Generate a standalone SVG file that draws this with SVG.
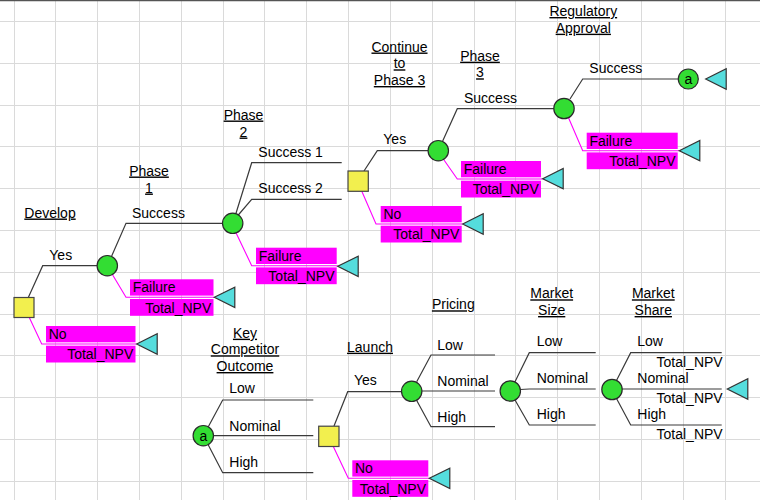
<svg xmlns="http://www.w3.org/2000/svg" width="760" height="500" viewBox="0 0 760 500">
<defs>
<style>
.grid{fill:none;stroke:#dadada;stroke-width:1}
.br{fill:none;stroke:#3a3a3a;stroke-width:1.2}
.pk{fill:none;stroke:#ff00ff;stroke-width:1.1}
.ch{fill:#33dd33;stroke:#2a2a2a;stroke-width:1.2}
.dec{fill:#f2ef4e;stroke:#444;stroke-width:1.2}
.term{fill:#55dddd;stroke:#333;stroke-width:1.2}
.box{fill:#ff00ff}
text{font-family:"Liberation Sans",Arial,sans-serif;font-size:14px;fill:#000}
.hdr{text-anchor:middle;text-decoration:underline}
.r{text-anchor:end}
.c{text-anchor:middle}
</style>
</defs>
<rect x="0" y="0" width="760" height="500" fill="#fff"/>
<g id="grid">
<path class="grid" d="M14.5 0V500M55.5 0V500M97.5 0V500M139.5 0V500M181.5 0V500M223.5 0V500M264.5 0V500M306.5 0V500M348.5 0V500M390.5 0V500M432.5 0V500M474.5 0V500M515.5 0V500M557.5 0V500M599.5 0V500M641.5 0V500M683.5 0V500M725.5 0V500"/>
<path class="grid" d="M0 21.5H760M0 63.5H760M0 105.5H760M0 146.5H760M0 188.5H760M0 230.5H760M0 272.5H760M0 314.5H760M0 355.5H760M0 397.5H760M0 439.5H760M0 481.5H760"/>
<path d="M0 0.5H760" stroke="#555" stroke-width="1.5"/>
</g>
<g id="headers">
<text class="hdr" x="50" y="217.5">Develop</text>
<text class="hdr" x="149" y="175.5">Phase</text>
<text class="hdr" x="149" y="192.5">1</text>
<text class="hdr" x="243.5" y="119.5">Phase</text>
<text class="hdr" x="243.5" y="136.5">2</text>
<text class="hdr" x="399.5" y="51.5">Continue</text>
<text class="hdr" x="399.5" y="68.3">to</text>
<text class="hdr" x="399.5" y="85">Phase 3</text>
<text class="hdr" x="480" y="60.7">Phase</text>
<text class="hdr" x="480" y="77.3">3</text>
<text class="hdr" x="583.3" y="16">Regulatory</text>
<text class="hdr" x="583.3" y="32.7">Approval</text>
<text class="hdr" x="245" y="337.7">Key</text>
<text class="hdr" x="245" y="354.3">Competitor</text>
<text class="hdr" x="245" y="371">Outcome</text>
<text class="hdr" x="370" y="351.7">Launch</text>
<text class="hdr" x="453.3" y="309.3">Pricing</text>
<text class="hdr" x="551.7" y="298.3">Market</text>
<text class="hdr" x="551.7" y="315">Size</text>
<text class="hdr" x="653.3" y="298.3">Market</text>
<text class="hdr" x="653.3" y="315">Share</text>
</g>
<g id="connectors">
<path class="br" d="M28.3 297.5L42.7 265.7H97.3"/>
<path class="pk" d="M29.3 317.5L41.7 344H136.7"/>
<path class="br" d="M111.7 256L126 223.3H222.7"/>
<path class="pk" d="M112.7 275L126 297.3H214.3"/>
<path class="br" d="M236 213.3L251.7 162.7H341.7"/>
<path class="br" d="M238.3 215L251.7 199.3H341.7"/>
<path class="pk" d="M236 232.7L251.7 265.7H337.7"/>
<path class="br" d="M364 171L377.3 150.7H428.3"/>
<path class="pk" d="M361.7 191L376 224H462.7"/>
<path class="br" d="M442.7 141L457.3 108.7H554"/>
<path class="pk" d="M444 160L457.3 179H542.7"/>
<path class="br" d="M570 99L582.7 79H678.3"/>
<path class="pk" d="M568.3 117.3L582.7 150.7H679.3"/>
<path class="br" d="M208.3 426.7L222.7 400H313.3"/>
<path class="br" d="M213.3 435.7H313.3"/>
<path class="br" d="M208.3 445L222.7 472.7H313.3"/>
<path class="br" d="M334 426L347.7 391.7H401.7"/>
<path class="pk" d="M333.3 446.5L348.3 478.3H429.3"/>
<path class="br" d="M416.7 381.7L431 355H495"/>
<path class="br" d="M421.7 391H495"/>
<path class="br" d="M416.7 400.5L431 426.7H495"/>
<path class="br" d="M515 381.7L529.3 352.7H595.7"/>
<path class="br" d="M520.3 389.5L529.3 389H595.7"/>
<path class="br" d="M515 400L529.3 425H595.7"/>
<path class="br" d="M616.5 380.5L630.7 352.7H721.7"/>
<path class="br" d="M622 389H721.7"/>
<path class="br" d="M616.5 398.5L630.7 425H721.7"/>
</g>
<g id="branch-labels">
<text x="49.3" y="259.5">Yes</text>
<text x="132" y="217.5">Success</text>
<text x="258.3" y="157.3">Success 1</text>
<text x="258.3" y="193.3">Success 2</text>
<text x="383.3" y="144.3">Yes</text>
<text x="464" y="102.7">Success</text>
<text x="589.3" y="73.3">Success</text>
<text x="229.3" y="393.3">Low</text>
<text x="229.3" y="430.7">Nominal</text>
<text x="229.3" y="467.3">High</text>
<text x="354" y="385">Yes</text>
<text x="437.3" y="350">Low</text>
<text x="437.3" y="385.7">Nominal</text>
<text x="437.3" y="421.7">High</text>
<text x="536.7" y="346">Low</text>
<text x="536.7" y="383.3">Nominal</text>
<text x="536.7" y="419.3">High</text>
<text x="637.3" y="346">Low</text>
<text x="637.3" y="383.3">Nominal</text>
<text x="637.3" y="419.3">High</text>
<text class="r" x="722.7" y="367.3">Total_NPV</text>
<text class="r" x="722.7" y="403.3">Total_NPV</text>
<text class="r" x="722.7" y="439.3">Total_NPV</text>
</g>
<g id="develop">
<rect class="dec" x="14" y="297.5" width="20" height="20"/>
</g>
<g id="develop-no">
<rect class="box" x="46" y="326" width="89.5" height="16.3"/>
<rect class="box" x="46" y="345.7" width="89.5" height="16.8"/>
<text x="48.7" y="339">No</text>
<text class="r" x="133.3" y="359.3">Total_NPV</text>
<polygon class="term" points="136.7,344 157.2,333.8 157.2,354.2"/>
</g>
<g id="phase1">
<circle class="ch" cx="107.3" cy="265.7" r="10.2"/>
</g>
<g id="phase1-failure">
<rect class="box" x="130" y="279.3" width="83.5" height="16.3"/>
<rect class="box" x="130" y="299" width="83.5" height="16.8"/>
<text x="132.7" y="292.3">Failure</text>
<text class="r" x="211.3" y="312.7">Total_NPV</text>
<polygon class="term" points="214.3,297.3 234.8,287.1 234.8,307.5"/>
</g>
<g id="phase2">
<circle class="ch" cx="232.7" cy="223.3" r="10.2"/>
</g>
<g id="phase2-failure">
<rect class="box" x="256" y="247.7" width="80.7" height="16.3"/>
<rect class="box" x="256" y="267.4" width="80.7" height="16.8"/>
<text x="258.7" y="260.7">Failure</text>
<text class="r" x="334.5" y="281.1">Total_NPV</text>
<polygon class="term" points="337.7,266.3 358.2,256.1 358.2,276.5"/>
</g>
<g id="continue">
<rect class="dec" x="348" y="171" width="20.3" height="20.3"/>
</g>
<g id="continue-no">
<rect class="box" x="380.7" y="206" width="81" height="16.3"/>
<rect class="box" x="380.7" y="225.7" width="81" height="16.8"/>
<text x="383.4" y="219">No</text>
<text class="r" x="459.4" y="239.4">Total_NPV</text>
<polygon class="term" points="462.7,224 483.2,213.8 483.2,234.2"/>
</g>
<g id="phase3">
<circle class="ch" cx="438.3" cy="150.7" r="10.2"/>
</g>
<g id="phase3-failure">
<rect class="box" x="461" y="161" width="80" height="16.3"/>
<rect class="box" x="461" y="180.7" width="80" height="16.8"/>
<text x="463.7" y="174">Failure</text>
<text class="r" x="538.8" y="194.4">Total_NPV</text>
<polygon class="term" points="542.7,178.7 563.2,168.5 563.2,188.9"/>
</g>
<g id="regulatory">
<circle class="ch" cx="564" cy="108.5" r="10.2"/>
</g>
<g id="regulatory-failure">
<rect class="box" x="586.7" y="132.7" width="91" height="16.3"/>
<rect class="box" x="586.7" y="152.4" width="91" height="16.8"/>
<text x="589.4" y="145.7">Failure</text>
<text class="r" x="675.5" y="166.1">Total_NPV</text>
<polygon class="term" points="679.3,150.7 699.8,140.5 699.8,160.9"/>
</g>
<g id="link-a">
<circle class="ch" cx="688.3" cy="79" r="10"/>
<text class="c" x="688.3" y="84">a</text>
<polygon class="term" points="705.7,79 726.2,68.8 726.2,89.2"/>
</g>
<g id="key-competitor">
<circle class="ch" cx="203.3" cy="435.7" r="10.2"/>
<text class="c" x="203.3" y="440.7">a</text>
</g>
<g id="launch">
<rect class="dec" x="318.7" y="426.2" width="20.3" height="20.3"/>
</g>
<g id="launch-no">
<rect class="box" x="352.3" y="460.3" width="76" height="16.3"/>
<rect class="box" x="352.3" y="480" width="76" height="16.8"/>
<text x="355" y="473.3">No</text>
<text class="r" x="426" y="493.7">Total_NPV</text>
<polygon class="term" points="429.3,478.3 449.8,468.1 449.8,488.5"/>
</g>
<g id="pricing">
<circle class="ch" cx="411.7" cy="391.3" r="10.2"/>
</g>
<g id="market-size">
<circle class="ch" cx="510.3" cy="391" r="10.2"/>
</g>
<g id="market-share">
<circle class="ch" cx="612" cy="389.5" r="10.2"/>
<polygon class="term" points="727.3,389 747.8,378.8 747.8,399.2"/>
</g>
</svg>
